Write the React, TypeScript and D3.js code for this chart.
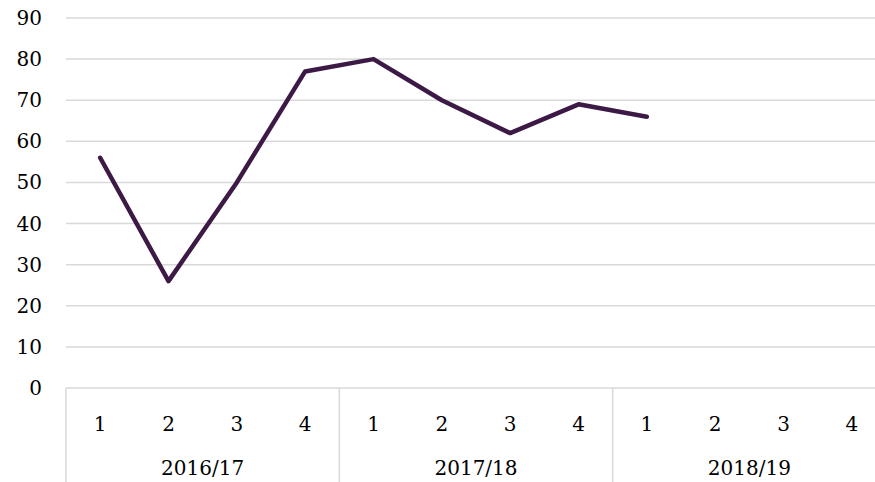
import * as d3 from 'd3';

// Chart data
const years = ['2016/17', '2017/18', '2018/19'];
const quarters = ['1', '2', '3', '4'];
const values = [56, 26, 50, 77, 80, 70, 62, 69, 66];
const yTicks = [0, 10, 20, 30, 40, 50, 60, 70, 80, 90];

const width = 875;
const height = 482;
const margin = { top: 18, left: 66, bottom: 94 };
const plotRight = 886; // last group runs past the window edge
const font = 'Georgia, "DejaVu Serif", "Liberation Serif", serif';

export default function App() {
    const categories = years.flatMap(y => quarters.map(q => `${y}-${q}`));

    const x = d3.scaleBand<string>()
        .domain(categories)
        .range([margin.left, plotRight])
        .padding(0);

    const y = d3.scaleLinear()
        .domain([0, 90])
        .range([height - margin.bottom, margin.top]);

    const line = d3.line<number>()
        .x((_, i) => (x(categories[i]) ?? 0) + x.bandwidth() / 2)
        .y(d => y(d));

    const groupWidth = x.bandwidth() * quarters.length;
    const baseY = y(0);

    return (
        <svg
            width={width}
            height={height}
            style={{ position: 'fixed', left: 0, top: 0, background: '#fff' }}
        >
            {/* Gridlines */}
            {yTicks.map(t => (
                <line
                    key={t}
                    x1={margin.left}
                    x2={width}
                    y1={y(t)}
                    y2={y(t)}
                    stroke="#d9d9d9"
                    strokeWidth={1.5}
                />
            ))}
            {/* Y labels */}
            {yTicks.map(t => (
                <text
                    key={`l${t}`}
                    x={42}
                    y={y(t)}
                    dy="0.35em"
                    textAnchor="end"
                    fontFamily={font}
                    fontSize={20}
                    fill="#000"
                >
                    {t}
                </text>
            ))}
            {/* Group dividers */}
            {years.map((yr, i) => (
                <line
                    key={`d${yr}`}
                    x1={margin.left + i * groupWidth}
                    x2={margin.left + i * groupWidth}
                    y1={baseY}
                    y2={height}
                    stroke="#d9d9d9"
                    strokeWidth={1.5}
                />
            ))}
            {/* Quarter labels */}
            {categories.map((c, i) => (
                <text
                    key={c}
                    x={(x(c) ?? 0) + x.bandwidth() / 2}
                    y={424}
                    dy="0.35em"
                    textAnchor="middle"
                    fontFamily={font}
                    fontSize={20}
                    fill="#000"
                >
                    {quarters[i % quarters.length]}
                </text>
            ))}
            {/* Year labels */}
            {years.map((yr, i) => (
                <text
                    key={yr}
                    x={margin.left + (i + 0.5) * groupWidth}
                    y={468}
                    dy="0.35em"
                    textAnchor="middle"
                    fontFamily={font}
                    fontSize={20}
                    fill="#000"
                >
                    {yr}
                </text>
            ))}
            {/* Series line */}
            <path
                d={line(values) ?? ''}
                fill="none"
                stroke="#3d1a45"
                strokeWidth={4.5}
                strokeLinejoin="round"
                strokeLinecap="round"
            />
        </svg>
    );
}
